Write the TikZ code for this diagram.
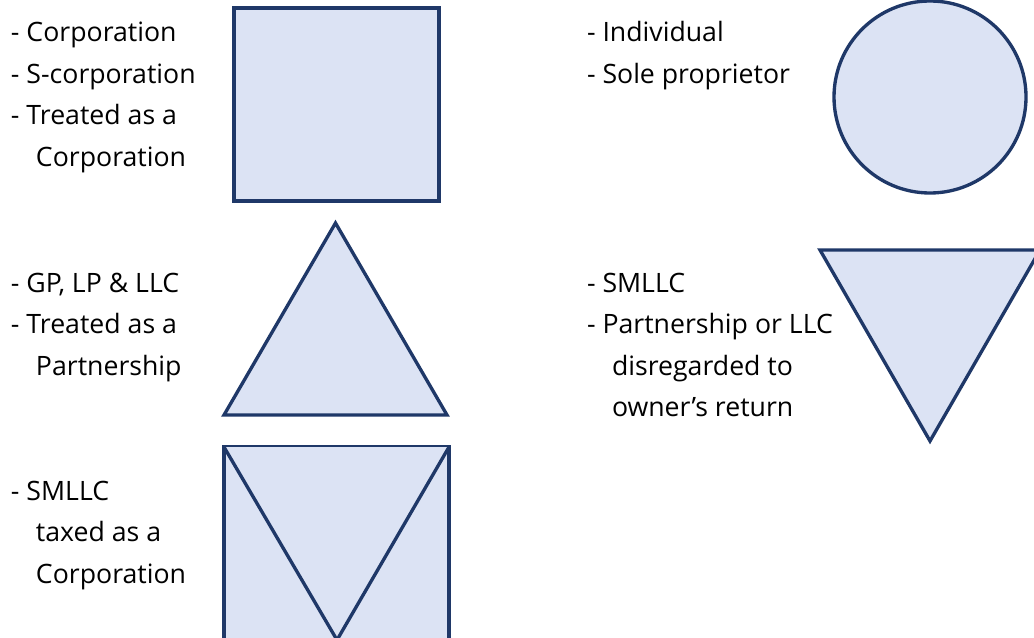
\documentclass[tikz,border=0pt]{standalone}
\usepackage{fontspec}
\setmainfont{Open Sans}
\definecolor{navy}{RGB}{31,56,104}
\definecolor{paleblue}{RGB}{220,227,244}
\begin{document}
\begin{tikzpicture}[x=0.75pt,y=-0.75pt,
  shapefill/.style={draw=navy,fill=paleblue,line width=2.5pt,line join=miter},
  label/.style={anchor=base west,inner sep=0pt,outer sep=0pt,font=\fontsize{20}{24}\selectfont}]
\useasboundingbox (0,0) rectangle (1034,638);
\clip (0,0) rectangle (1034,638);
% shapes
\draw[shapefill] (234,8) rectangle (439,201);
\draw[shapefill] (930,97) circle (96);
\draw[shapefill] (224,415) -- (335.5,223) -- (447,415) -- cycle;
\draw[shapefill] (820,250) -- (1040,250) -- (930,441) -- cycle;
\draw[shapefill] (224,447) rectangle (449,700);
\draw[shapefill] (224,447) -- (337,640) -- (449,447);
% texts: group 1
\node[label] (c1) at (11,42) {- Corporation};
\node[label] (c2) at (11,83.5) {- S-corporation};
\node[label] (c3) at (11,125) {- Treated as a};
\node[label] (c4) at (36,166.5) {Corporation};
% group 2
\node[label] (p1) at (11,292) {- GP, LP \& LLC};
\node[label] (p2) at (11,333.5) {- Treated as a};
\node[label] (p3) at (36,375) {Partnership};
% group 3
\node[label] (s1) at (11,500) {- SMLLC};
\node[label] (s2) at (36,541.5) {taxed as a};
\node[label] (s3) at (36,583) {Corporation};
% right group 1
\node[label] (i1) at (587,42) {- Individual};
\node[label] (i2) at (587,83.5) {- Sole proprietor};
% right group 2
\node[label] (d1) at (587,292) {- SMLLC};
\node[label] (d2) at (587,333.5) {- Partnership or LLC};
\node[label] (d3) at (612,375) {disregarded to};
\node[label] (d4) at (612,416.5) {owner’s return};
\end{tikzpicture}
\end{document}
